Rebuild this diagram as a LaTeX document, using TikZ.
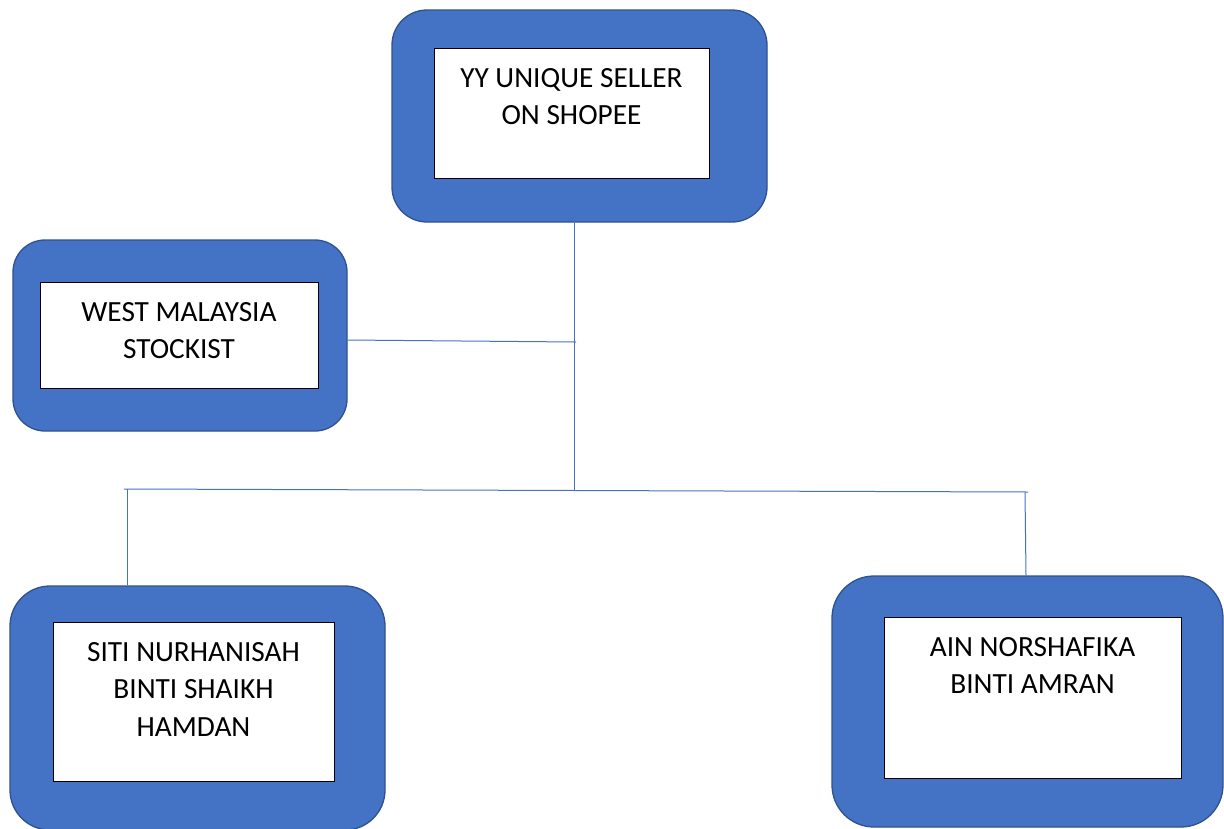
\documentclass[tikz,border=0pt]{standalone}
\usepackage{fontspec}
\setmainfont{Carlito}
\usepackage{xcolor}
\usetikzlibrary{positioning}

\definecolor{boxblue}{HTML}{4472C4}
\definecolor{boxedge}{HTML}{2F528F}

\begin{document}
\begin{tikzpicture}[x=1pt, y=-1pt,
    outerbox/.style={rectangle, rounded corners=#1, draw=boxedge, fill=boxblue, line width=1.3pt, inner sep=0pt},
    innerbox/.style={rectangle, draw=black, fill=white, line width=1pt, inner sep=0pt},
    boxtext/.style={align=center, inner sep=0pt, font=\fontsize{29.3}{37.5}\selectfont},
    link/.style={draw=boxblue, line width=1pt}]
        \useasboundingbox (0,0) rectangle (1224,828);

        % 顶部 - 店铺
        \node[outerbox=35pt, minimum width=375pt, minimum height=212pt] (topbox) at (579.5, 116) {};
        \node[innerbox, minimum width=275pt, minimum height=130pt] (topin) at (571.5, 113) {};
        \node[boxtext, below=20.3pt of topin.north] (toptext) {YY UNIQUE SELLER\\ON SHOPEE};

        % 左侧 - 供货商
        \node[outerbox=32pt, minimum width=334pt, minimum height=191pt] (leftbox) at (180, 335.5) {};
        \node[innerbox, minimum width=278pt, minimum height=106pt] (leftin) at (179, 335) {};
        \node[boxtext, below=20.3pt of leftin.north] (lefttext) {WEST MALAYSIA\\STOCKIST};

        % 左下 - 成员1
        \node[outerbox=40pt, minimum width=375pt, minimum height=244pt] (blbox) at (197.5, 708) {};
        \node[innerbox, minimum width=281pt, minimum height=159pt] (blin) at (193.5, 701.5) {};
        \node[boxtext, below=20.3pt of blin.north] (bltext) {SITI NURHANISAH\\BINTI SHAIKH\\HAMDAN};

        % 右下 - 成员2
        \node[outerbox=42pt, minimum width=391pt, minimum height=251pt] (brbox) at (1027.5, 701.5) {};
        \node[innerbox, minimum width=297pt, minimum height=161pt] (brin) at (1032.5, 697.5) {};
        \node[boxtext, below=20.3pt of brin.north] (brtext) {AIN NORSHAFIKA\\BINTI AMRAN};

        % 连接点
        \coordinate (jmid) at (574, 490);
        \coordinate (jleft) at (576, 342);
        \coordinate (barL) at (124, 489);
        \coordinate (barR) at (1028, 492);
        \coordinate (dropL) at (127, 489);
        \coordinate (dropR) at (1025, 492);

        % 连接线
        \draw[link] (jmid |- topbox.south) -- (jmid);
        \draw[link] ([yshift=-4.5pt]leftbox.east) -- (jleft);
        \draw[link] (barL) -- (barR);
        \draw[link] (dropL) -- (dropL |- blbox.north);
        \draw[link] (dropR) -- ([xshift=1pt]dropR |- brbox.north);
\end{tikzpicture}
\end{document}
